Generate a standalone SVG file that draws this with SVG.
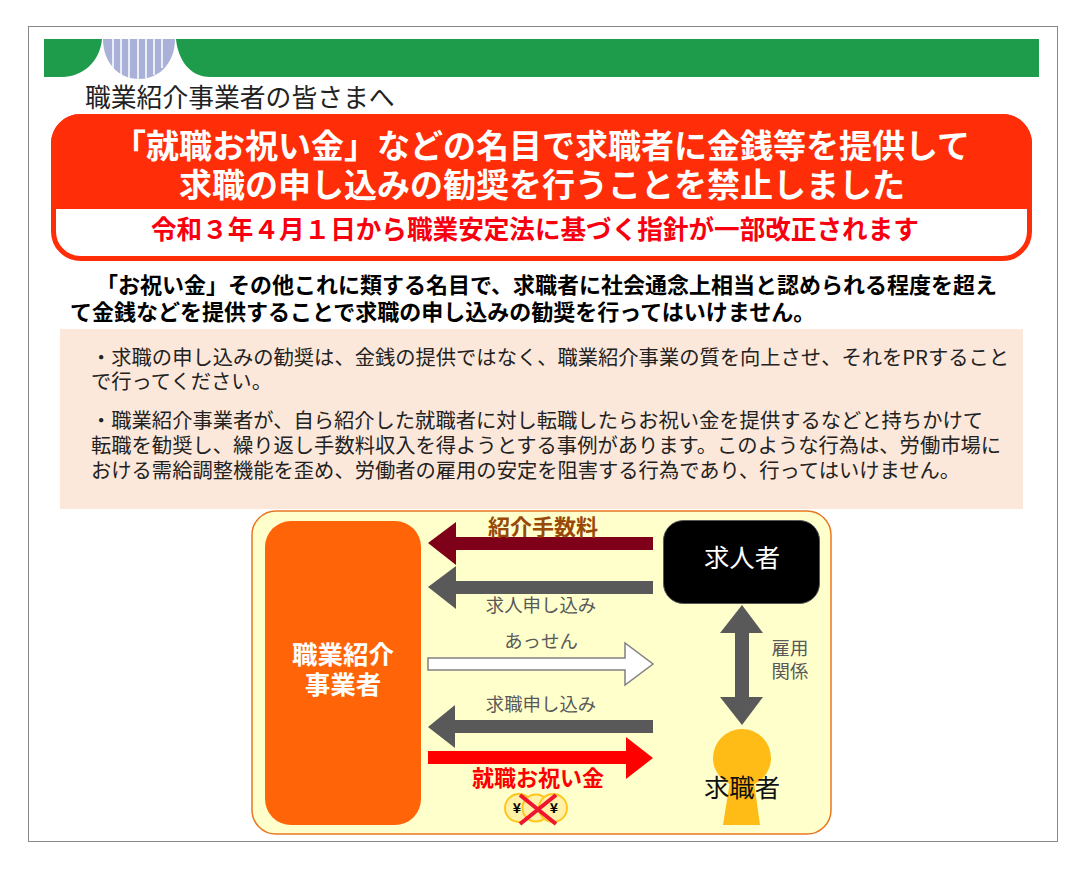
<svg xmlns="http://www.w3.org/2000/svg" width="1086" height="872" viewBox="0 0 1086 872">
<defs>
<style>
text{font-family:"Noto Sans CJK JP","Noto Sans",sans-serif}
.g{fill:#595959;font-size:18.4px;text-anchor:middle}
.h{font-size:33px;font-weight:700;fill:#fff}
.t{font-size:22px;font-weight:700;fill:#000}
.p{font-size:20.3px;fill:#222}
.n{font-size:25.4px;text-anchor:middle}
.c{fill:#fff2a8;stroke:#ffc61e;stroke-width:2}
</style>
</defs>
<rect width="1086" height="872" fill="#fff"/>
<rect x="28.500" y="26.500" width="1029" height="815" fill="#fff" stroke="#888"/>
<g id="banner">
<path d="M44 39H102C100 62 82 77 62 77H44Z" fill="#1e9b4b"/>
<path d="M176 39H1039V77H210C190 77 178 60 176 39Z" fill="#1e9b4b"/>
<path d="M103 39H175C175 62 160 79 139 79C118 79 103 62 103 39Z" fill="#a9b1d8"/>
<path d="M113 39V70M121 39V75M129 39V78M138 39V79M146 39V78M154 39V75M162 39V68" stroke="#fff" stroke-width="1.500" fill="none"/>
<text x="85" y="107" font-size="25.800" fill="#222">職業紹介事業者の皆さまへ</text>
</g>
<g id="headline">
<rect x="53.500" y="116.500" width="976" height="142" rx="27" fill="#fff" stroke="#ff2d08" stroke-width="5"/>
<path d="M51 209V144C51 127 64 114 81 114H1002C1019 114 1032 127 1032 144V209Z" fill="#ff2d08"/>
<text class="h" x="113" y="158">「就職お祝い金」などの名目で求職者に金銭等を提供して</text>
<text class="h" x="179" y="197">求職の申し込みの勧奨を行うことを禁止しました</text>
<text x="151" y="239" font-size="25.600" font-weight="700" fill="#f80010">令和３年４月１日から職業安定法に基づく指針が一部改正されます</text>
</g>
<g id="intro">
<text class="t" x="96" y="293">「お祝い金」その他これに類する名目で、求職者に社会通念上相当と認められる程度を超え</text>
<text class="t" x="70" y="320">て金銭などを提供することで求職の申し込みの勧奨を行ってはいけません。</text>
</g>
<g id="notes">
<rect x="60" y="329" width="963" height="180" fill="#fce8da"/>
<text class="p" x="91" y="364.500">・求職の申し込みの勧奨は、金銭の提供ではなく、職業紹介事業の質を向上させ、それをPRすること</text>
<text class="p" x="91" y="388.500">で行ってください。</text>
<text class="p" x="91" y="427.500">・職業紹介事業者が、自ら紹介した就職者に対し転職したらお祝い金を提供するなどと持ちかけて</text>
<text class="p" x="91" y="452.500">転職を勧奨し、繰り返し手数料収入を得ようとする事例があります。このような行為は、労働市場に</text>
<text class="p" x="91" y="478">おける需給調整機能を歪め、労働者の雇用の安定を阻害する行為であり、行ってはいけません。</text>
</g>
<g id="panel"><rect x="252" y="511" width="579" height="323" rx="24" fill="#ffffcc" stroke="#e87722" stroke-width="1.500"/></g>
<g id="connectors">
<path d="M653 537V550H456V565L428 543L456 522V537Z" fill="#7f0019"/>
<path d="M653 581V594H456V609L428 587L456 566V581Z" fill="#595959"/>
<path d="M428 658H625V643L653 664L625 685V670H428Z" fill="#fff" stroke="#808080" stroke-width="1.500"/>
<path d="M653 720V733H455V748L428 727L455 705V720Z" fill="#595959"/>
<path d="M428 751H626V737L653 758L626 779V764H428Z" fill="#ff0000"/>
<path d="M742 605L763 633H749V697H763L742 725L720 697H735V633H720Z" fill="#595959"/>
</g>
<g id="agency">
<rect x="265" y="521" width="156" height="304" rx="26" fill="#ff6409"/>
<text x="343" y="664" font-size="25.500" font-weight="700" fill="#fff" text-anchor="middle">職業紹介</text>
<text x="343" y="694" font-size="25.500" font-weight="700" fill="#fff" text-anchor="middle">事業者</text>
</g>
<g id="employer">
<rect x="663.500" y="520.500" width="156" height="83" rx="20" fill="#000" stroke="#595959"/>
<text class="n" x="742" y="567" fill="#fff">求人者</text>
</g>
<g id="seeker">
<circle cx="742" cy="758" r="29" fill="#ffbb16"/>
<path d="M731 775H753L760 825H723Z" fill="#ffbb16"/>
<text class="n" x="742" y="797" fill="#111">求職者</text>
</g>
<g id="labels">
<text x="543" y="535" font-size="22" font-weight="700" fill="#984807" text-anchor="middle">紹介手数料</text>
<text class="g" x="541" y="612">求人申し込み</text>
<text class="g" x="541" y="648">あっせん</text>
<text class="g" x="541" y="711">求職申し込み</text>
<text x="538" y="786" font-size="22" font-weight="700" fill="#f00" text-anchor="middle">就職お祝い金</text>
<text class="g" x="790" y="655">雇用</text>
<text class="g" x="790" y="678">関係</text>
</g>
<g id="coins">
<circle class="c" cx="519" cy="808" r="14"/>
<circle class="c" cx="536" cy="808" r="13.500"/>
<circle class="c" cx="553" cy="808" r="14"/>
<text x="517" y="813" font-size="14" font-weight="700" text-anchor="middle">¥</text>
<text x="554" y="813" font-size="14" font-weight="700" text-anchor="middle">¥</text>
<path d="M520 795L556 824M556 795L520 824" stroke="#f0142f" stroke-width="4"/>
</g>
</svg>
